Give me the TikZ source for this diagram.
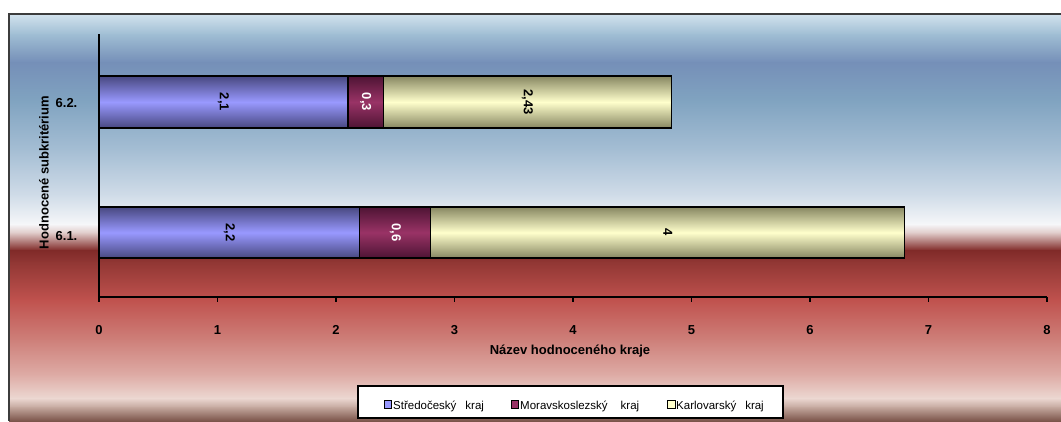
\documentclass[tikz,border=0pt]{standalone}
\usepackage{fontspec}
\setmainfont{Liberation Sans}
\usetikzlibrary{calc,positioning}
\definecolor{bgA}{RGB}{210,226,237}
\definecolor{bgB}{RGB}{160,190,212}
\definecolor{bgC}{RGB}{117,143,184}
\definecolor{bgD}{RGB}{128,163,192}
\definecolor{bgE}{RGB}{165,190,212}
\definecolor{bgF}{RGB}{208,220,232}
\definecolor{bgG}{RGB}{246,247,249}
\definecolor{bgH}{RGB}{222,200,198}
\definecolor{bgI}{RGB}{128,42,40}
\definecolor{bgJ}{RGB}{145,55,52}
\definecolor{bgK}{RGB}{192,82,78}
\definecolor{bgL}{RGB}{206,128,122}
\definecolor{bgM}{RGB}{222,172,166}
\definecolor{bgN}{RGB}{236,216,210}
\definecolor{bgO}{RGB}{196,168,158}
\definecolor{bgP}{RGB}{120,80,70}
\definecolor{barblue}{RGB}{153,153,255}
\definecolor{barbluedark}{RGB}{72,72,128}
\definecolor{barmaroon}{RGB}{153,51,102}
\definecolor{barmaroondark}{RGB}{78,20,52}
\definecolor{baryellow}{RGB}{255,255,204}
\definecolor{baryellowdark}{RGB}{135,135,98}
\definecolor{framegray}{RGB}{60,60,60}
\newcommand{\boldlab}{\fontsize{13}{15}\selectfont\bfseries}
\newcommand{\leglab}{\fontsize{11.5}{13}\selectfont}
\tikzset{
  bar/.style={draw=black,line width=1.3pt},
  bluebar/.style={bar,top color=barbluedark,bottom color=barbluedark,middle color=barblue},
  maroonbar/.style={bar,top color=barmaroondark,bottom color=barmaroondark,middle color=barmaroon},
  yellowbar/.style={bar,top color=baryellowdark,bottom color=baryellowdark,middle color=baryellow},
  vallabel/.style={rotate=-90,font=\boldlab,inner sep=0pt},
  axisline/.style={draw=black,line width=1.3pt},
  ticklabel/.style={font=\boldlab,inner sep=0pt,anchor=base},
  legsquare/.style={draw=black,line width=0.8pt},
  legtext/.style={font=\leglab,inner sep=0pt,anchor=base west}
}

\begin{document}
\begin{tikzpicture}[auto,x=1pt,y=-1pt]
\useasboundingbox (0,0) rectangle (1061,421);
% chart area
\foreach \ya/\yb/\ca/\cb in {14/34/bgA/bgB, 34/62/bgB/bgC, 62/100/bgC/bgD, 100/150/bgD/bgE, 150/195/bgE/bgF, 195/224/bgF/bgG, 224/233/bgG/bgH, 233/250/bgH/bgI, 250/262/bgI/bgJ, 262/300/bgJ/bgK, 300/340/bgK/bgL, 340/375/bgL/bgM, 375/398/bgM/bgN, 398/407/bgN/bgO, 407/421/bgO/bgP}
  \shade[top color=\ca,bottom color=\cb] (9,\ya) rectangle (1061,\yb+0.6);
\draw [framegray,line width=1.5pt] (9,421) -- (9,14) -- (1061,14);
% bars 6.2.
\draw [bluebar] (99,76) rectangle (347.9,128);
\draw [maroonbar] (347.9,76) rectangle (383.4,128);
\draw [yellowbar] (383.4,76) rectangle (671.4,128);
% bars 6.1.
\draw [bluebar] (99,207) rectangle (359.7,258);
\draw [maroonbar] (359.7,207) rectangle (430.8,258);
\draw [yellowbar] (430.8,207) rectangle (904.8,258);
\node[vallabel] (v21) at (223.5,102) {2,1};
\node[vallabel,white] (v03) at (365.7,102) {0,3};
\node[vallabel] (v243) at (527.4,102) {2,43};
\node[vallabel] (v22) at (229.4,232.5) {2,2};
\node[vallabel,white] (v06) at (395.3,232.5) {0,6};
\node[vallabel] (v4) at (667.8,232.5) {4};
% axes
\draw[axisline] (99,34) -- (99,302);
\draw[axisline] (99,297) -- (1047,297);
\foreach \x in {0,...,8} {
  \draw[axisline,shift={({99+118.5*\x},297)}] (0,0) -- (0,5);
  \node[ticklabel] (t\x) at ({99+118.5*\x},334) {\x};
}
\node[ticklabel] (c62) at (66.5,107) {6.2.};
\node[ticklabel] (c61) at (66.5,240) {6.1.};
\node[ticklabel] (xtitle) at (570,354) {Název hodnoceného kraje};
\node[ticklabel,rotate=90] (ytitle) at (48.5,172.5) {Hodnocené subkritérium};
% legend
\draw[fill=white,line width=1.3pt] (358,386) rectangle (783,418);
\draw[legsquare,fill=barblue] (384,400) rectangle (391,408);
\node[legtext] (l1) at (393,409) {Středočeský\hspace{9pt}kraj};
\draw[legsquare,fill=barmaroon] (511,400) rectangle (518,408);
\node[legtext] (l2) at (520,409) {Moravskoslezský\hspace{13pt}kraj};
\draw[legsquare,fill=baryellow] (667,400) rectangle (675,408);
\node[legtext] (l3) at (676,409) {Karlovarský\hspace{9pt}kraj};
\end{tikzpicture}
\end{document}
